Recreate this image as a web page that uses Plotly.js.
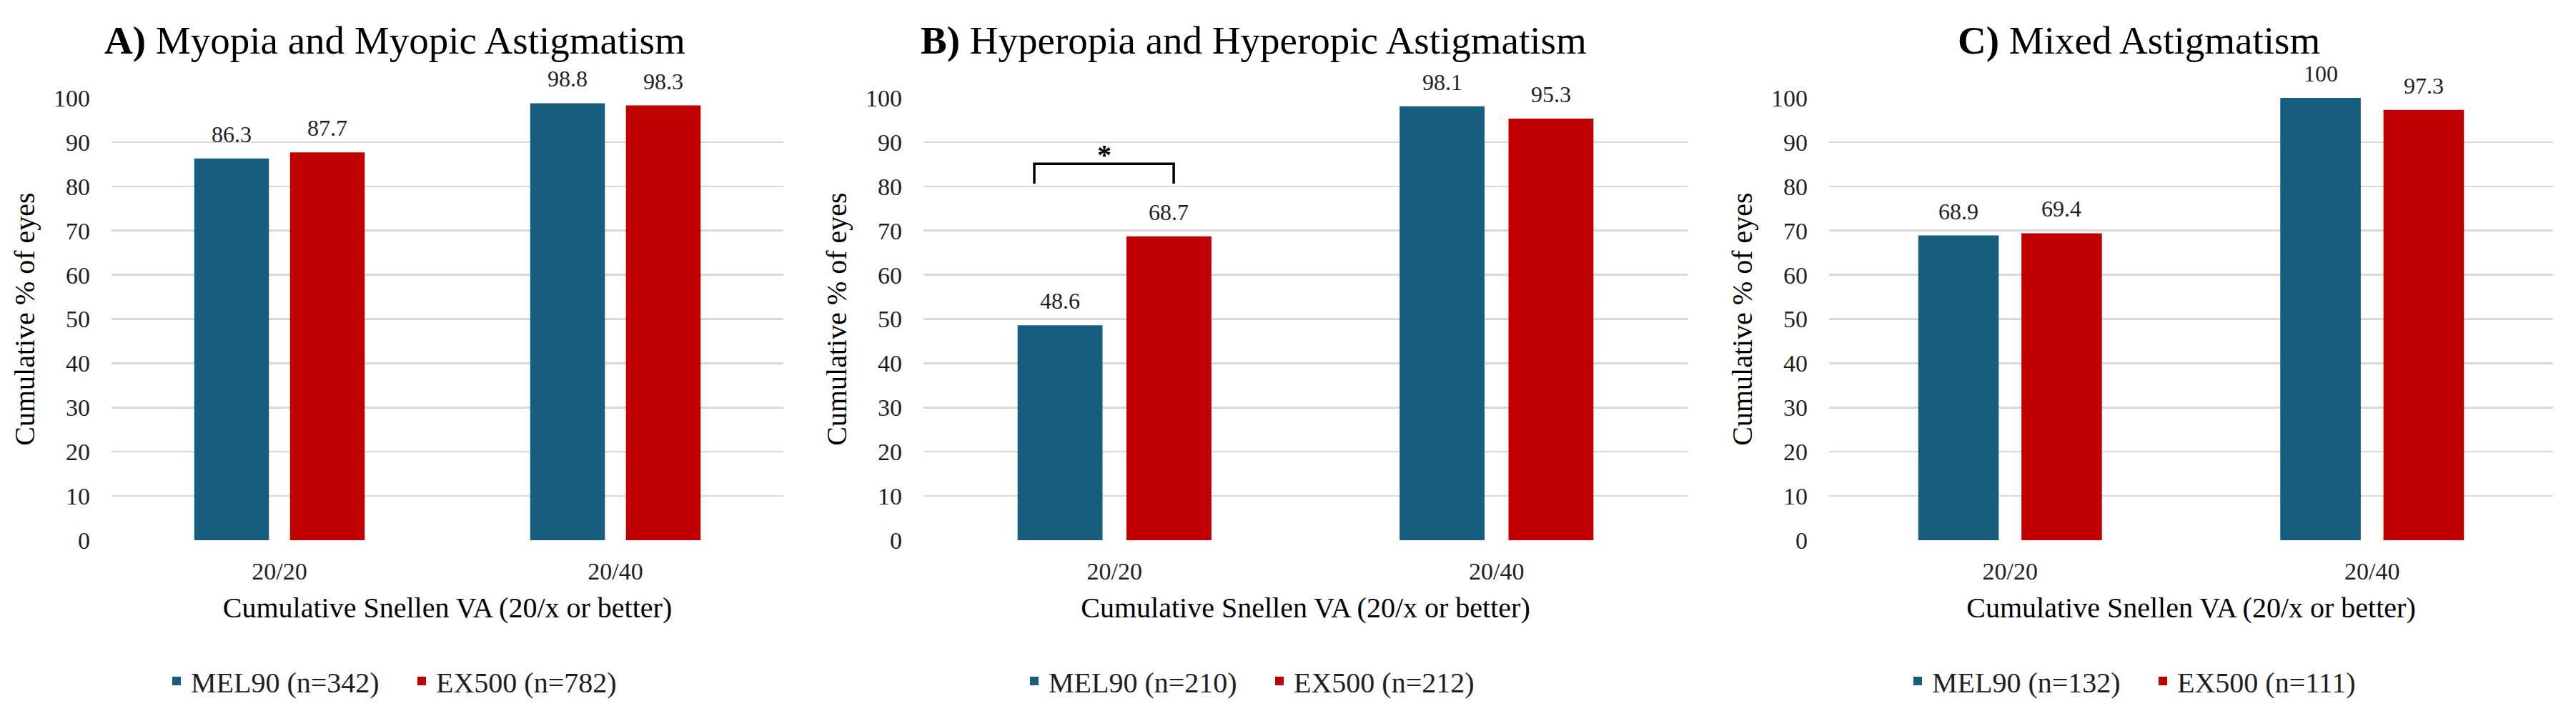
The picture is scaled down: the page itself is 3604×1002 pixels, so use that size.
<!DOCTYPE html>
<html>
<head>
<meta charset="utf-8">
<script src="https://cdn.plot.ly/plotly-3.0.1.min.js"></script>
<style>html,body{margin:0;padding:0;background:#ffffff;}</style>
</head>
<body>
<div id="chart" style="width:3604px;height:1002px;"></div>
<script>
// ---------------- data ----------------
const categories = ['20/20', '20/40'];
const panelTitles = [
  '<b>A)</b> Myopia and Myopic Astigmatism',
  '<b>B)</b> Hyperopia and Hyperopic Astigmatism',
  '<b>C)</b> Mixed Astigmatism'
];
const mel90A = [86.3, 98.8];
const ex500A = [87.7, 98.3];
const mel90B = [48.6, 98.1];
const ex500B = [68.7, 95.3];
const mel90C = [68.9, 100];
const ex500C = [69.4, 97.3];
const mel90Names = ['MEL90 (n=342)', 'MEL90 (n=210)', 'MEL90 (n=132)'];
const ex500Names = ['EX500 (n=782)', 'EX500 (n=212)', 'EX500 (n=111)'];
const yTickVals = [0, 10, 20, 30, 40, 50, 60, 70, 80, 90, 100];
const xAxisTitle = 'Cumulative Snellen VA (20/x or better)';
const yAxisTitle = 'Cumulative % of eyes';
// significance marker in panel B (20/20 group), x in category-index units
const sigBracketX = [-0.21, 0.155];
const sigBracketY = [80.6, 85.1];
const sigStarY = 88.4;
const sigLabel = '*';

// ---------------- styling ----------------
const W = 3604, H = 1002;
const FONT = '"Liberation Serif", "Times New Roman", Times, serif';
const BLUE = '#175e7e';
const RED = '#c00000';
const GRID = '#d9d9d9';
const TXT = '#1f1f1f';
const BARGAP = 0.43, BARGROUPGAP = 0.22;
const xDomains = [[156 / W, 1096 / W], [1292 / W, 2361 / W], [2559 / W, 3572 / W]];
const yDomain = [1 - 756 / H, 1 - 137 / H];
const titleX = [552 / W, 1754 / W, 2992 / W];
const legendX = [570 / W, 1770 / W, 3006 / W];

const melSeries = [mel90A, mel90B, mel90C];
const exSeries = [ex500A, ex500B, ex500C];

const traces = [];
const annotations = [];
const layout = {
  width: W, height: H,
  margin: {l: 0, r: 0, t: 0, b: 0, pad: 0},
  paper_bgcolor: '#ffffff', plot_bgcolor: '#ffffff',
  font: {family: FONT, color: TXT},
  barmode: 'group', bargap: BARGAP, bargroupgap: BARGROUPGAP,
  showlegend: true,
  shapes: []
};

const half = (1 - BARGAP) / 4;

for (let p = 0; p < 3; p++) {
  const sfx = p === 0 ? '' : String(p + 1);
  const xa = 'x' + sfx, ya = 'y' + sfx;
  const lg = 'legend' + sfx;
  traces.push({
    type: 'bar', x: categories, y: melSeries[p], name: mel90Names[p],
    xaxis: xa, yaxis: ya, legend: lg,
    marker: {color: BLUE, line: {width: 0}}, hoverinfo: 'x+y+name'
  });
  traces.push({
    type: 'bar', x: categories, y: exSeries[p], name: ex500Names[p],
    xaxis: xa, yaxis: ya, legend: lg,
    marker: {color: RED, line: {width: 0}}, hoverinfo: 'x+y+name'
  });

  layout['xaxis' + sfx] = {
    domain: xDomains[p], anchor: ya, type: 'category',
    showgrid: false, zeroline: false, showline: false, ticks: '',
    ticklabelstandoff: 20,
    tickfont: {family: FONT, size: 34, color: TXT},
    title: {text: xAxisTitle, font: {family: FONT, size: 40, color: '#000'}, standoff: 18},
    fixedrange: true
  };
  layout['yaxis' + sfx] = {
    domain: yDomain, anchor: xa, range: [0, 100],
    tickvals: yTickVals, showgrid: true, gridcolor: GRID, gridwidth: 2.5,
    zeroline: false, showline: false, ticks: '',
    ticklabelstandoff: 29,
    tickfont: {family: FONT, size: 34, color: TXT},
    title: {text: yAxisTitle, font: {family: FONT, size: 40, color: '#000'}, standoff: 14},
    fixedrange: true
  };
  layout[lg] = {
    orientation: 'h', x: legendX[p], xanchor: 'center', y: 1 - 953 / H, yanchor: 'middle',
    font: {family: FONT, size: 40, color: TXT}, bgcolor: 'rgba(0,0,0,0)',
    entrywidth: 298, entrywidthmode: 'pixels', itemclick: false, itemdoubleclick: false
  };

  // panel title
  annotations.push({
    xref: 'paper', yref: 'paper', x: titleX[p], y: 1 - 56 / H,
    xanchor: 'center', yanchor: 'middle', showarrow: false,
    text: panelTitles[p], font: {family: FONT, size: 55, color: '#000'}
  });

  // data labels
  [melSeries[p], exSeries[p]].forEach((vals, s) => {
    vals.forEach((v, i) => {
      annotations.push({
        xref: xa, yref: ya, x: i + (s === 0 ? -half : half), y: v,
        xanchor: 'center', yanchor: 'bottom', yshift: 14, showarrow: false,
        text: String(v), font: {family: FONT, size: 32, color: TXT}
      });
    });
  });
}

// significance bracket (panel B)
layout.shapes.push({
  type: 'path', xref: 'x2', yref: 'y2',
  path: 'M' + sigBracketX[0] + ',' + sigBracketY[0] + ' L' + sigBracketX[0] + ',' + sigBracketY[1] +
        ' L' + sigBracketX[1] + ',' + sigBracketY[1] + ' L' + sigBracketX[1] + ',' + sigBracketY[0],
  line: {color: '#000', width: 3.5}
});
annotations.push({
  xref: 'x2', yref: 'y2', x: (sigBracketX[0] + sigBracketX[1]) / 2, y: sigStarY,
  xanchor: 'center', yanchor: 'middle', yshift: -8, showarrow: false,
  text: '<b>' + sigLabel + '</b>', font: {family: FONT, size: 40, color: '#000'}
});

layout.annotations = annotations;

Plotly.newPlot('chart', traces, layout, {displayModeBar: false, staticPlot: true});
</script>
</body>
</html>
